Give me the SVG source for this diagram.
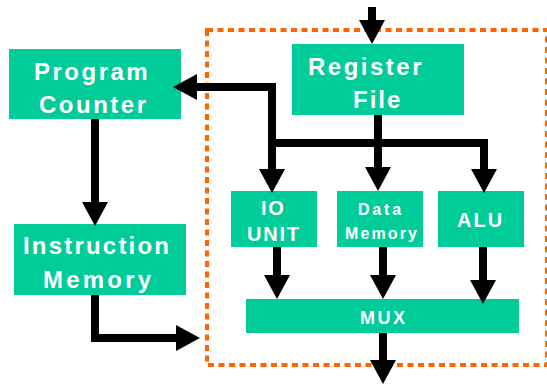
<svg xmlns="http://www.w3.org/2000/svg" width="547" height="387" viewBox="0 0 547 387">
  <style>
    .box { fill: #00CC99; }
    .lbl { fill: #ffffff; font-family: "Liberation Sans", Arial, sans-serif; font-weight: bold; }
    .big { font-size: 24px; letter-spacing: 2.5px; }
    .mid { font-size: 20px; letter-spacing: 1.8px; }
    .small { font-size: 16px; letter-spacing: 2.5px; }
    .wire { fill: none; stroke: #000000; stroke-width: 8; stroke-linejoin: miter; marker-end: url(#head); }
    .frame { fill: none; stroke: #FF6600; stroke-width: 4; stroke-dasharray: 6 4.5; }
  </style>
  <defs>
    <marker id="head" markerUnits="userSpaceOnUse" markerWidth="24" markerHeight="26" refX="0" refY="13" orient="auto" overflow="visible">
      <path d="M0,0 L24,13 L0,26 Z" fill="#000000"/>
    </marker>
  </defs>

  <!-- datapath boundary -->
  <rect class="frame" x="207" y="30" width="340" height="335"/>

  <g id="program-counter">
    <rect class="box" x="9" y="49" width="172" height="70"/>
    <text class="lbl big" x="34" y="80">Program</text>
    <text class="lbl big" x="39" y="113">Counter</text>
  </g>

  <g id="instruction-memory">
    <rect class="box" x="14" y="224" width="172" height="71"/>
    <text class="lbl big" x="23" y="254" style="letter-spacing:2.2px">Instruction</text>
    <text class="lbl big" x="43" y="288" style="letter-spacing:3.2px">Memory</text>
  </g>

  <g id="register-file">
    <rect class="box" x="292" y="44" width="172" height="71"/>
    <text class="lbl big" x="308" y="75">Register</text>
    <text class="lbl big" x="353" y="108" style="letter-spacing:2px">File</text>
  </g>

  <g id="io-unit">
    <rect class="box" x="231" y="191" width="86" height="56"/>
    <text class="lbl mid" x="261" y="215">IO</text>
    <text class="lbl mid" x="247" y="241">UNIT</text>
  </g>

  <g id="data-memory">
    <rect class="box" x="337" y="191" width="86" height="56"/>
    <text class="lbl small" x="358" y="215" style="letter-spacing:2.8px">Data</text>
    <text class="lbl small" x="345" y="239" style="letter-spacing:2.1px">Memory</text>
  </g>

  <g id="alu">
    <rect class="box" x="438" y="191" width="86" height="56"/>
    <text class="lbl mid" x="457" y="227" style="letter-spacing:2px">ALU</text>
  </g>

  <g id="mux">
    <rect class="box" x="246" y="299" width="273" height="34"/>
    <text class="lbl" x="360" y="324" style="font-size:18px;letter-spacing:2.5px">MUX</text>
  </g>

  <g id="connectors">
    <!-- external input into register file -->
    <path class="wire" d="M372,7 V20"/>
    <!-- register file fan-out -->
    <path class="wire" d="M378,115 V167"/>
    <path class="wire" d="M268,143 H484 V169"/>
    <!-- feedback to program counter, branch into IO unit -->
    <path class="wire" d="M272,169 V87 H197"/>
    <path class="wire" d="M272,140 V169"/>
    <!-- units into MUX -->
    <path class="wire" d="M277,247 V275"/>
    <path class="wire" d="M383,247 V275"/>
    <path class="wire" d="M483,247 V280"/>
    <!-- MUX output -->
    <path class="wire" d="M383,333 V360"/>
    <!-- program counter to instruction memory -->
    <path class="wire" d="M95,119 V202"/>
    <!-- instruction memory into datapath -->
    <path class="wire" d="M95,295 V338 H176"/>
  </g>
</svg>
